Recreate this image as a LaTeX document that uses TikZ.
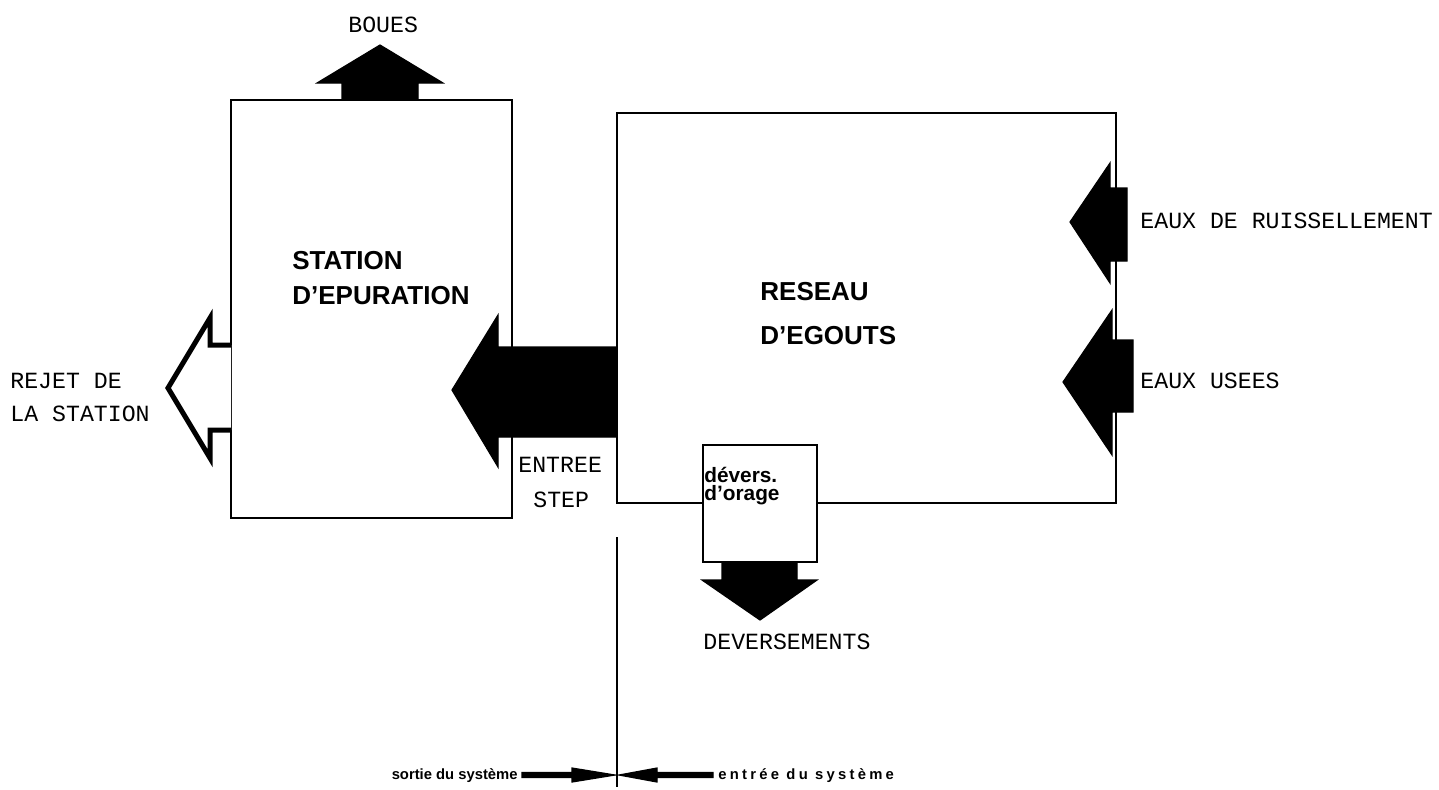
\documentclass[tikz,border=0pt]{standalone}
\usepackage{fontspec}
\setmainfont{Liberation Serif}
\setsansfont{Liberation Sans}
\setmonofont{Liberation Mono}
\usetikzlibrary{positioning}

\tikzset{
  boite/.style={draw, line width=1.2pt, fill=white, inner sep=0pt},
  fleche/.style={fill=black, draw=black, line width=0.6pt, line join=miter},
  machine/.style={font=\ttfamily\fontsize{11.6}{14}\selectfont, inner sep=0pt, anchor=base west},
  titre/.style={font=\sffamily\bfseries\fontsize{13}{16}\selectfont, inner sep=0pt, anchor=base west},
  petit/.style={font=\sffamily\bfseries\fontsize{10.4}{12}\selectfont, inner sep=0pt, anchor=base west},
  systeme/.style={font=\sffamily\bfseries\fontsize{7.4}{9}\selectfont, inner sep=0pt},
}

\begin{document}
\begin{tikzpicture}[x=0.5pt,y=-0.5pt]
\useasboundingbox (0,0) rectangle (1439,789);

% boites
\node[boite, minimum width=140.5pt, minimum height=209pt] (station) at (371.5,309) {};
\node[boite, minimum width=249.5pt, minimum height=195pt] (reseau) at (866.5,308) {};
\node[boite, minimum width=57pt, minimum height=58.5pt] (devers) at (760,503.5) {};

% textes des boites
\node[titre] (station1) at (292,269) {STATION};
\node[titre] (station2) at (292,304) {D'EPURATION};
\node[titre] (reseau1) at (760,300) {RESEAU};
\node[titre] (reseau2) at (760,344) {D'EGOUTS};
\node[petit] (devers1) at (704,482) {dévers.};
\node[petit] (devers2) at (704,500) {d'orage};

% boues
\draw[fleche] (342,100) -- (342,83) -- (317,83) -- (380,45) -- (443,83) -- (418,83) -- (418,100) -- cycle;
\node[machine] (boues) at (348,32) {BOUES};

% rejet de la station
\draw[line width=2.5pt, fill=white, line join=miter] (231,345) -- (210,345) -- (210,318) -- (168,388) -- (210,458) -- (210,430) -- (231,430);
\node[machine] (rejet1) at (10,388) {REJET DE};
\node[machine] (rejet2) at (10,421) {LA STATION};

% entree step
\draw[fleche] (617,347) -- (498,347) -- (498,315) -- (452,390) -- (498,467) -- (498,437) -- (617,437) -- cycle;
\node[machine] (entree1) at (518,472) {ENTREE};
\node[machine] (entree2) at (533,507) {STEP};

% eaux de ruissellement
\draw[fleche] (1127,188) -- (1110,188) -- (1110,163) -- (1070,222) -- (1110,283) -- (1110,261) -- (1127,261) -- cycle;
\node[machine] (ruiss) at (1140,228) {EAUX DE RUISSELLEMENT};

% eaux usees
\draw[fleche] (1133,340) -- (1112,340) -- (1112,310) -- (1063,382) -- (1112,455) -- (1112,412) -- (1133,412) -- cycle;
\node[machine] (usees) at (1140,388) {EAUX USEES};

% deversements
\draw[fleche] (722,562) -- (722,580) -- (702,580) -- (760,620) -- (817,580) -- (797,580) -- (797,562) -- cycle;
\node[machine] (deversements) at (703,649) {DEVERSEMENTS};

% limite du systeme
\coordinate (haut) at (617,537);
\coordinate (bas) at (617,787);
\draw[line width=1.2pt] (haut) -- (bas);
\draw[fleche] (522,772.5) -- (572,772.5) -- (572,768) -- (615,775) -- (572,782) -- (572,777.5) -- (522,777.5) -- cycle;
\draw[fleche] (713,772.5) -- (657,772.5) -- (657,768) -- (619,775) -- (657,782) -- (657,777.5) -- (713,777.5) -- cycle;
\node[systeme, anchor=base east] (sortie) at (518,779) {sortie du système};
\node[systeme, anchor=base west] (entree) at (718,779) {\addfontfeature{LetterSpace=22}entrée du système};

\end{tikzpicture}
\end{document}
